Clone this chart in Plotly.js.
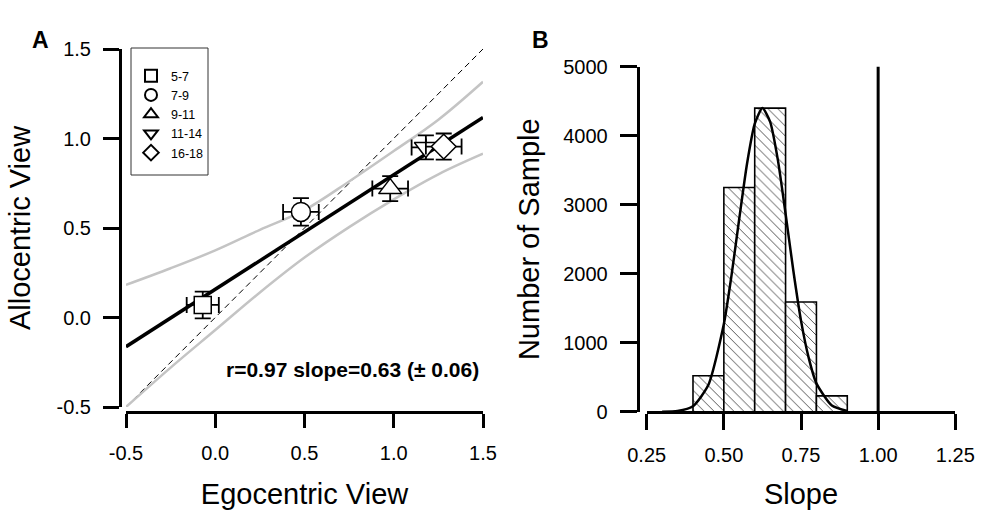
<!DOCTYPE html>
<html><head><meta charset="utf-8">
<script src="https://cdn.plot.ly/plotly-3.0.1.min.js"></script>
<style>html,body{margin:0;padding:0;background:#fff}</style>
</head><body><div id="chart" style="width:986px;height:510px"></div>
<script>
// ---------- Panel A data ----------
const ageGroups = ['5-7', '7-9', '9-11', '11-14', '16-18'];
const egoMean = [-0.07, 0.48, 0.98, 1.18, 1.28];
const alloMean = [0.07, 0.59, 0.72, 0.95, 0.955];
const egoSE = [0.09, 0.10, 0.10, 0.08, 0.10];
const alloSE = [0.075, 0.077, 0.07, 0.067, 0.073];
const fitX = [-0.5, 1.5];
const fitY = [-0.163, 1.118];
const identityX = [-0.5, 1.5];
const identityY = [-0.5, 1.5];
const ciX = [-0.5, -0.25, 0, 0.25, 0.5, 0.75, 1.0, 1.25, 1.5];
const ciUpper = [0.182, 0.275, 0.375, 0.49, 0.60, 0.76, 0.93, 1.105, 1.317];
const ciLower = [-0.5, -0.28, -0.07, 0.14, 0.335, 0.505, 0.66, 0.80, 0.915];
const statText = 'r=0.97 slope=0.63 (± 0.06)';
const statPos = [1.49, -0.293];
const egoTickVals = [-0.5, 0, 0.5, 1, 1.5];
const egoTickText = ['-0.5', '0.0', '0.5', '1.0', '1.5'];
const alloTickVals = [-0.5, 0, 0.5, 1, 1.5];
const alloTickText = ['-0.5', '0.0', '0.5', '1.0', '1.5'];

// ---------- Panel B data ----------
const slopeBinCenters = [0.45, 0.55, 0.65, 0.75, 0.85];
const slopeCounts = [520, 3250, 4400, 1590, 230];
const slopeBinWidth = 0.1;
const curveX = [0.30, 0.35, 0.40, 0.45, 0.50, 0.525, 0.55, 0.575, 0.60, 0.625, 0.65, 0.675, 0.70, 0.725, 0.75, 0.775, 0.80, 0.85, 0.90];
const curveY = [0, 11, 80, 390, 1270, 1980, 2800, 3590, 4170, 4400, 4200, 3650, 2870, 2050, 1320, 780, 410, 90, 12];
const refSlopeX = [1, 1];
const refSlopeY = [0, 5120];
const slopeTickVals = [0.25, 0.5, 0.75, 1.0, 1.25];
const slopeTickText = ['0.25', '0.50', '0.75', '1.00', '1.25'];
const countTickVals = [0, 1000, 2000, 3000, 4000, 5000];

// ---------- styles ----------
const W = 986, H = 510;
const px = v => v / W;
const py = v => 1 - v / H;
const FONT = 'Liberation Sans, Arial, Helvetica, sans-serif';
const groupSymbols = ['square', 'circle', 'triangle-up', 'triangle-down', 'diamond'];
const groupSizes = [17, 19, 20, 20, 19];

const traces = [];
traces.push({x: identityX, y: identityY, mode: 'lines', xaxis: 'x', yaxis: 'y', showlegend: false,
  line: {color: '#000', width: 1, dash: '6px,4px'}, hoverinfo: 'skip'});
traces.push({x: ciX, y: ciUpper, mode: 'lines', xaxis: 'x', yaxis: 'y', showlegend: false,
  line: {color: '#c4c4c4', width: 2.5, shape: 'spline'}, hoverinfo: 'skip'});
traces.push({x: ciX, y: ciLower, mode: 'lines', xaxis: 'x', yaxis: 'y', showlegend: false,
  line: {color: '#c4c4c4', width: 2.5, shape: 'spline'}, hoverinfo: 'skip'});
traces.push({x: fitX, y: fitY, mode: 'lines', xaxis: 'x', yaxis: 'y', showlegend: false,
  line: {color: '#000', width: 3.5}, hoverinfo: 'skip'});
ageGroups.forEach((g, i) => {
  traces.push({
    x: [egoMean[i]], y: [alloMean[i]], name: g, mode: 'markers', xaxis: 'x', yaxis: 'y',
    marker: {symbol: groupSymbols[i], size: groupSizes[i], color: '#fff', line: {color: '#000', width: 1.5}},
    error_x: {type: 'data', array: [egoSE[i]], color: '#000', thickness: 1.8, width: 8},
    error_y: {type: 'data', array: [alloSE[i]], color: '#000', thickness: 1.8, width: 8}
  });
});
traces.push({x: slopeBinCenters, y: slopeCounts, type: 'bar', width: slopeBinWidth, xaxis: 'x2', yaxis: 'y2',
  showlegend: false,
  marker: {color: '#fff', line: {color: '#000', width: 1.6},
    pattern: {shape: '\\', fgcolor: '#555', bgcolor: '#fff', size: 7, solidity: 0.14}}});
traces.push({x: curveX, y: curveY, mode: 'lines', xaxis: 'x2', yaxis: 'y2', showlegend: false,
  line: {color: '#000', width: 2.5, shape: 'spline', smoothing: 0.6}, hoverinfo: 'skip'});
traces.push({x: refSlopeX, y: refSlopeY, mode: 'lines', xaxis: 'x2', yaxis: 'y2', showlegend: false,
  line: {color: '#000', width: 3}, hoverinfo: 'skip'});

const axisCommon = {
  showline: true, linewidth: 3, linecolor: '#000', ticks: 'outside', tickwidth: 3, tickcolor: '#000',
  showgrid: false, zeroline: false, tickfont: {size: 20, color: '#000', family: FONT},
  tickmode: 'array', fixedrange: true
};

const layout = {
  width: W, height: H,
  margin: {l: 0, r: 0, t: 0, b: 0, autoexpand: false},
  paper_bgcolor: '#fff', plot_bgcolor: 'rgba(0,0,0,0)',
  font: {family: FONT, color: '#000'},
  bargap: 0,
  xaxis: Object.assign({}, axisCommon, {
    domain: [px(126), px(483)], range: [-0.5, 1.5], anchor: 'free', position: py(412),
    ticklen: 14, tickvals: egoTickVals, ticktext: egoTickText, ticklabelstandoff: 8,
    title: {text: 'Egocentric View', font: {size: 29, family: FONT, color: '#000'}, standoff: 20}
  }),
  yaxis: Object.assign({}, axisCommon, {
    domain: [py(407), py(49)], range: [-0.5, 1.5], anchor: 'free', position: px(120),
    ticklen: 16, tickvals: alloTickVals, ticktext: alloTickText, ticklabelstandoff: 8,
    title: {text: 'Allocentric View', font: {size: 29, family: FONT, color: '#000'}, standoff: 16}
  }),
  xaxis2: Object.assign({}, axisCommon, {
    domain: [px(646.7), px(955.3)], range: [0.25, 1.25], anchor: 'free', position: py(412),
    ticklen: 16, tickvals: slopeTickVals, ticktext: slopeTickText, ticklabelstandoff: 8,
    title: {text: 'Slope', font: {size: 29, family: FONT, color: '#000'}, standoff: 18}
  }),
  yaxis2: Object.assign({}, axisCommon, {
    domain: [py(411.7), py(66.7)], range: [0, 5000], anchor: 'free', position: px(637.7),
    ticklen: 17, tickvals: countTickVals, ticklabelstandoff: 8,
    title: {text: 'Number of Sample', font: {size: 29, family: FONT, color: '#000'}, standoff: 14}
  }),
  showlegend: true,
  legend: {x: px(131), y: py(61), xanchor: 'left', yanchor: 'top', bgcolor: 'rgba(0,0,0,0)',
    borderwidth: 0, font: {size: 12.5, family: FONT, color: '#000'}, itemsizing: 'constant',
    tracegroupgap: 0},
  shapes: [
    {type: 'rect', xref: 'paper', yref: 'paper', x0: px(131), x1: px(208), y0: py(175), y1: py(48),
     line: {color: '#333', width: 1}, fillcolor: 'rgba(0,0,0,0)', layer: 'below'}
  ],
  annotations: [
    {text: '<b>A</b>', xref: 'paper', yref: 'paper', x: px(30), y: py(25), showarrow: false,
     font: {size: 23, family: FONT, color: '#000'}},
    {text: '<b>B</b>', xref: 'paper', yref: 'paper', x: px(540), y: py(25), showarrow: false,
     font: {size: 23, family: FONT, color: '#000'}},
    {text: '<b>' + statText + '</b>', xref: 'x', yref: 'y', x: statPos[0], y: statPos[1],
     xanchor: 'right', yanchor: 'middle', showarrow: false, font: {size: 21, family: FONT, color: '#000'}}
  ]
};

Plotly.newPlot('chart', traces, layout, {displayModeBar: false, staticPlot: true});
</script>
</body></html>
